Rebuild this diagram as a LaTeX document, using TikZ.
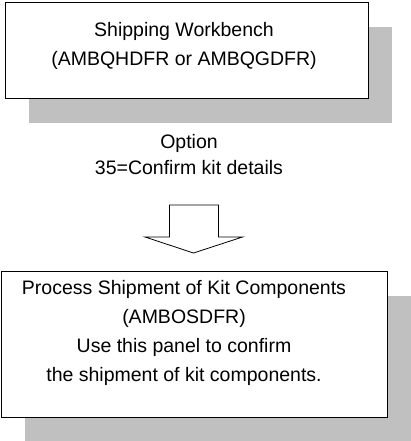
\documentclass[tikz,border=0pt]{standalone}
\usepackage{fontspec}
\setmainfont{Liberation Sans}
\usetikzlibrary{shadows,positioning}
\definecolor{shadowgray}{RGB}{192,192,192}
\tikzset{
  panel/.style={draw, line width=1pt, fill=white, inner sep=0pt,
    general shadow={fill=shadowgray, shadow xshift=24pt, shadow yshift=-24pt}},
  paneltext/.style={inner sep=0pt, align=center, font=\fontsize{19.5}{29}\selectfont},
}

\begin{document}
\begin{tikzpicture}[x=1pt, y=-1pt]
  \useasboundingbox (0,0) rectangle (410,441);

  % upper panel
  \node[panel, minimum width=363pt, minimum height=96pt] (bench) at (186.5,51) {};
  \node[paneltext] (benchtxt) at (184,45.5) {Shipping Workbench\\(AMBQHDFR or AMBQGDFR)};

  \node[paneltext, font=\fontsize{19.5}{26}\selectfont] (opt) at (189,155) {Option\\35=Confirm kit details};

  % block arrow
  \coordinate (tip) at (193.5,253);
  \draw[line width=0.8pt, fill=white] (tip) -- ++(-48.5,-16) -- ++(24.5,0) -- ++(0,-32)
    -- ++(49,0) -- ++(0,32) -- ++(24,0) -- cycle;

  % lower panel
  \node[panel, minimum width=386pt, minimum height=145.5pt] (kit) at (194,344.25) {};
  \node[paneltext] (kittxt) at (184,333) {Process Shipment of Kit Components\\(AMBOSDFR)\\
    Use this panel to confirm\\the shipment of kit components.};

\end{tikzpicture}
\end{document}
